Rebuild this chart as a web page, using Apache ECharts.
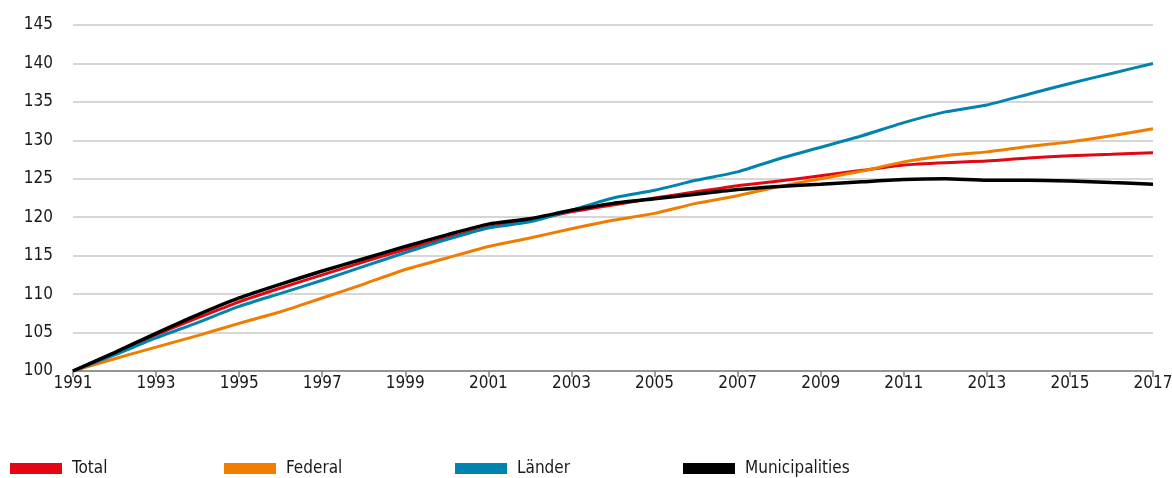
<!DOCTYPE html>
<html>
<head>
<meta charset="utf-8">
<script src="https://cdn.jsdelivr.net/npm/echarts@6/dist/echarts.min.js"></script>
<style>
html,body{margin:0;padding:0;background:#fff;overflow:hidden;}
#chart{width:1172px;height:478px;}
</style>
</head>
<body>
<div id="chart"></div>
<script>
const years = ['1991','1992','1993','1994','1995','1996','1997','1998','1999','2000','2001','2002','2003','2004','2005','2006','2007','2008','2009','2010','2011','2012','2013','2014','2015','2016','2017'];
const total = [100,102.3,104.7,106.9,109.0,110.8,112.5,114.2,115.8,117.3,118.7,119.6,120.7,121.6,122.5,123.3,124.1,124.7,125.4,126.1,126.8,127.1,127.3,127.7,128.0,128.2,128.4];
const federal = [100,101.6,103.1,104.6,106.2,107.7,109.5,111.3,113.2,114.7,116.2,117.3,118.5,119.6,120.5,121.8,122.8,124.0,125.0,126.0,127.2,128.0,128.5,129.2,129.8,130.6,131.5];
const laender = [100,102.1,104.3,106.3,108.4,110.1,111.8,113.6,115.4,117.1,118.6,119.4,120.9,122.5,123.5,124.8,125.9,127.6,129.1,130.6,132.3,133.7,134.6,136.0,137.4,138.7,140.0];
const municipalities = [100,102.4,104.9,107.3,109.5,111.3,113.0,114.6,116.2,117.7,119.1,119.8,120.9,121.8,122.4,123.0,123.6,124.0,124.3,124.6,124.9,125.0,124.8,124.8,124.7,124.5,124.3];
const seriesNames = ['Total','Federal','Länder','Municipalities'];
const colors = ['#e30613','#f07d00','#0083ad','#000000'];

const FONT = '"Liberation Sans Narrow","DejaVu Sans Condensed","Roboto",sans-serif';
const chart = echarts.init(document.getElementById('chart'), null, {renderer:'canvas'});
const legendLefts = [10, 224, 455, 683];
const dataArr = [total, federal, laender, municipalities];

chart.setOption({
  animation:false,
  color: colors,
  textStyle:{fontFamily:FONT},
  legend: seriesNames.map((n,i)=>({
    data:[n], left:legendLefts[i], top:460, padding:0,
    itemWidth:52, itemHeight:11, itemGap:0,
    icon:'rect',
    textStyle:{fontFamily:FONT, fontSize:17, color:'#1a1a1a', padding:[0,0,0,5]}
  })),
  grid:{left:73, right:19, top:25, bottom:107, containLabel:false, outerBoundsMode:'none'},
  xAxis:{
    type:'category', data:years, boundaryGap:false,
    axisLine:{lineStyle:{color:'#808080', width:1.5}},
    axisTick:{show:true, interval:1, length:6, lineStyle:{color:'#808080', width:1.5}},
    axisLabel:{interval:1, color:'#1a1a1a', fontSize:17, fontFamily:FONT, margin:4}
  },
  yAxis:{
    type:'value', min:100, max:145, interval:5,
    axisLine:{show:false}, axisTick:{show:false},
    splitLine:{lineStyle:{color:'#c8c8c8', width:1.5}},
    axisLabel:{color:'#1a1a1a', fontSize:17, fontFamily:FONT, margin:20}
  },
  series: seriesNames.map((n,i)=>({
    name:n, type:'line', data:dataArr[i], showSymbol:false, smooth:0.2,
    lineStyle:{width: i===3 ? 3.5 : 3, color:colors[i]},
    itemStyle:{color:colors[i]}
  }))
});
</script>
</body>
</html>
